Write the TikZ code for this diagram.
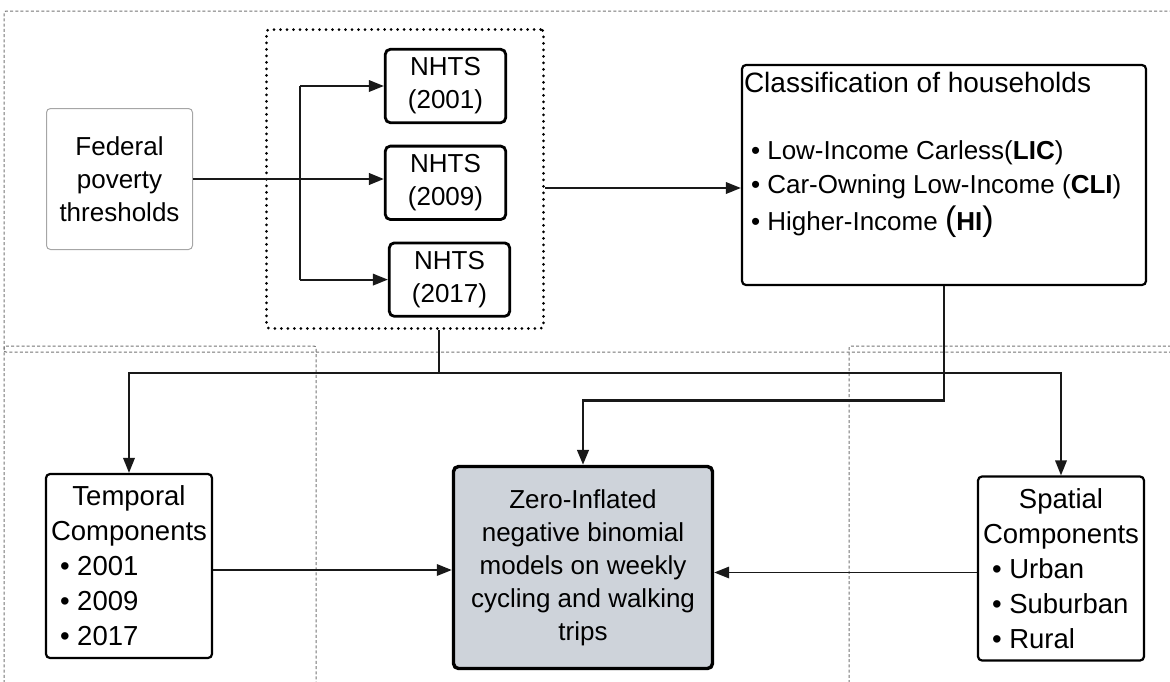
\documentclass[tikz,border=0pt]{standalone}
\usepackage{fontspec}
\setmainfont{Liberation Sans}
\usepackage{xcolor}
\usetikzlibrary{arrows.meta,positioning}
\definecolor{modelgray}{RGB}{206,211,218}
\definecolor{panelgray}{RGB}{115,115,115}

\begin{document}
\begin{tikzpicture}[
    x=1pt, y=-1pt,
    node distance=20.6pt,
    panel/.style={draw=panelgray, line width=1pt, dash pattern=on 3pt off 2.2pt, rounded corners=2pt},
    srcbox/.style={rectangle, rounded corners=4pt, draw=black!35, line width=1pt, align=center, minimum width=146pt, minimum height=141pt, font=\fontsize{26}{33}\selectfont},
    nhtsbox/.style={rectangle, rounded corners=5pt, draw=black, line width=2.8pt, align=center, minimum width=120.4pt, minimum height=73.4pt, inner sep=0pt, font=\fontsize{26}{33}\selectfont},
    framebox/.style={rectangle, rounded corners=3pt, draw=black, line width=3pt, line cap=round, dash pattern=on 0pt off 6.5pt, minimum width=277pt, minimum height=299pt},
    classbox/.style={rectangle, rounded corners=4pt, draw=black, line width=2.2pt, inner sep=0pt},
    compbox/.style={rectangle, rounded corners=4pt, draw=black, line width=2.2pt, align=center, minimum width=166pt, minimum height=184pt, inner sep=0pt, font=\fontsize{27.5}{35}\selectfont},
    modelbox/.style={rectangle, rounded corners=5pt, draw=black, fill=modelgray, line width=3.4pt, align=center, minimum width=259pt, minimum height=202pt, font=\fontsize{26}{33}\selectfont},
    link/.style={line width=1.8pt, draw=black!90},
    arrow/.style={link, -{Triangle[length=15pt, width=11.5pt]}},
    heavy/.style={arrow, line width=2.8pt}
]
\useasboundingbox (0,0) rectangle (1170,681);

% dashed panels
\draw[panel] (1172,352) -- (4,352) -- (4,11) -- (1172,11);
\draw[panel] (4,683) -- (4,346) -- (316,346) -- (316,683);
\draw[panel] (849,683) -- (849,346) -- (1172,346);

\node[srcbox] (fed) at (119.5,179) {Federal\\poverty\\thresholds};
\node[framebox] (surveys) at (405,179) {};
\node[nhtsbox] (nhts01) at (445.5,86) {NHTS\\(2001)};
\node[nhtsbox, below=of nhts01] (nhts09) {NHTS\\(2009)};
\node[nhtsbox, below=of nhts09, xshift=4pt] (nhts17) {NHTS\\(2017)};

\node[classbox] (class) at (944,175) {\parbox[c][220pt][t]{404pt}{\fontsize{26}{34}\selectfont
    \hspace*{2pt}{\fontsize{28}{34}\selectfont\rule{0pt}{27.7pt}Classification of households}\\[32.3pt]
    \hspace*{9pt}• Low-Income Carless(\textbf{LIC})\\
    \hspace*{9pt}• Car-Owning Low-Income (\textbf{CLI})\\[3pt]
    \hspace*{9pt}• Higher-Income {\fontsize{34}{34}\selectfont(}\textbf{HI}{\fontsize{34}{34}\selectfont)}}};

\node[compbox] (temporal) at (129,566) {Temporal\\Components\\
    \makebox[158pt][l]{\hspace{10pt}• 2001}\\
    \makebox[158pt][l]{\hspace{10pt}• 2009}\\
    \makebox[158pt][l]{\hspace{10pt}• 2017}};
\node[modelbox] (model) at (583,567.5) {Zero-Inflated\\negative binomial\\models on weekly\\cycling and walking\\trips};
\node[compbox] (spatial) at (1061,568.5) {Spatial\\Components\\
    \makebox[158pt][l]{\hspace{10pt}• Urban}\\
    \makebox[158pt][l]{\hspace{10pt}• Suburban}\\
    \makebox[158pt][l]{\hspace{10pt}• Rural}};

\coordinate (split) at (300,179);
\coordinate (hub) at (439,373);

\draw[arrow, line width=2.4pt] (fed.east) -- (fed.east -| nhts09.west);
\draw[link] (split |- nhts01.west) -- (split |- nhts17.west);
\draw[arrow] (split |- nhts01.west) -- (nhts01.west);
\draw[arrow] (split |- nhts17.west) -- (nhts17.west);
\draw[arrow] ([yshift=-9pt]surveys.east) -- ([yshift=-9pt]surveys.east -| class.west);
\draw[link] ([xshift=34pt]surveys.south) -- (hub);
\draw[arrow] (hub) -| (temporal.north);
\draw[arrow] (hub) -| (spatial.north);
\draw[heavy] (class.south) -- ++(0,114) -| (model.north);
\draw[arrow] ([yshift=-4pt]temporal.east) -- ([yshift=-4pt]temporal.east -| model.west);
\draw[arrow] ([yshift=-4pt]spatial.west) -- ([yshift=-4pt]spatial.west -| model.east);
\end{tikzpicture}
\end{document}
